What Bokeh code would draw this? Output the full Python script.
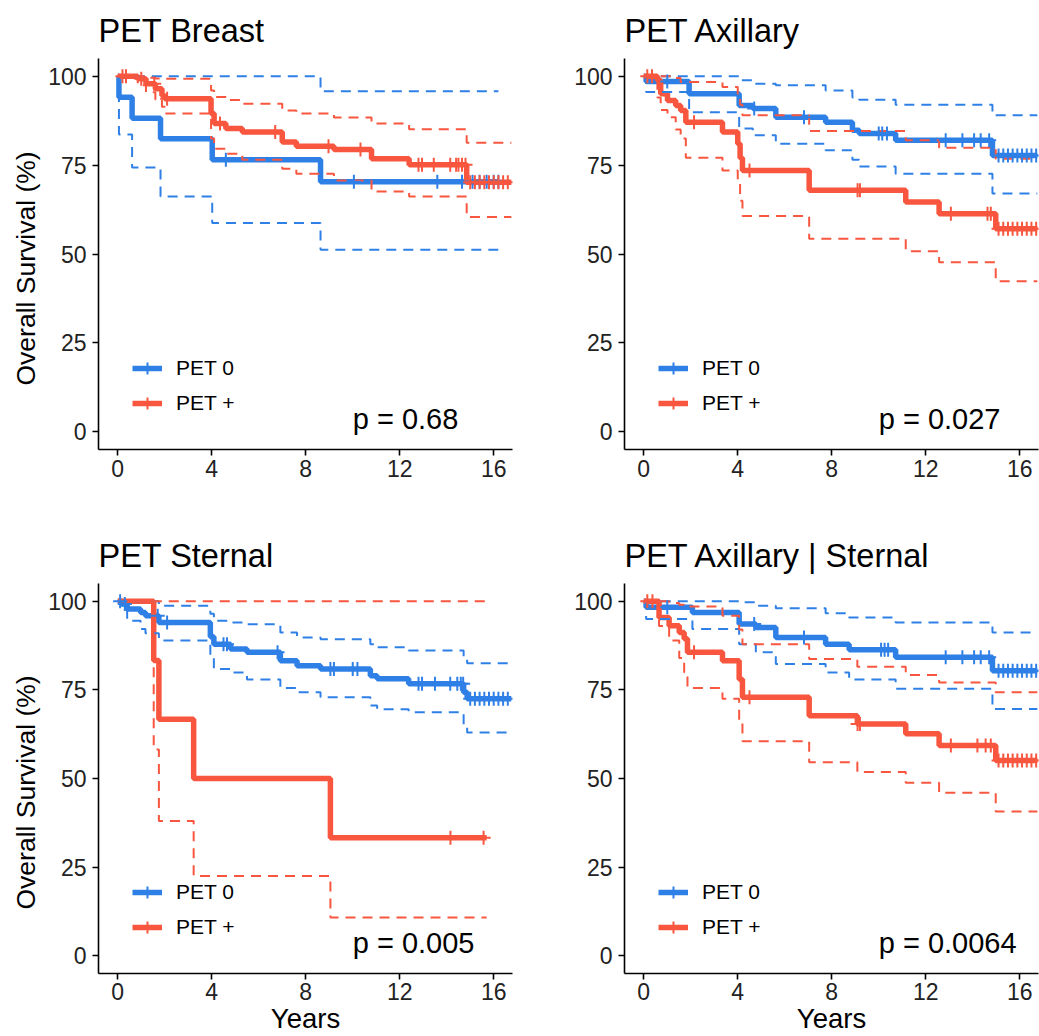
import numpy as np
from bokeh.plotting import figure
from bokeh.models import Range1d, Legend, LegendItem, Label, Title
from bokeh.layouts import column, row
from bokeh.embed import file_html
from bokeh.resources import INLINE

FONT = "Liberation Sans"
BLUE = "#2F80E6"
RED = "#F8563F"

titles = ["PET Breast", "PET Axillary", "PET Sternal", "PET Axillary | Sternal"]
pvals = ["p = 0.68", "p = 0.027", "p = 0.005", "p = 0.0064"]
legend_labels = ["PET 0", "PET +"]
x_ticks = [0, 4, 8, 12, 16]
y_ticks = [0, 25, 50, 75, 100]
y_title = "Overall Survival (%)"
x_title = "Years"

# ---------------- PET Breast ----------------
breast_pet0_time = [0, 0.05, 0.61, 1.82, 4.02, 8.63, 16.2]
breast_pet0_surv = [100, 94.1, 88.2, 82.4, 76.5, 70.3, 70.3]
breast_pet0_upper = [100, 100, 100, 100, 100, 95.8, 95.8]
breast_pet0_lower = [100, 83.6, 74.3, 66.2, 58.7, 51.2, 51.2]
breast_pet0_censor = [4.6, 10.05, 13.6, 14.65, 15.1, 15.4, 15.7, 16.0, 16.2]

breast_petp_time = [0, 0.85, 1.2, 1.6, 1.88, 2.0, 3.97, 4.1, 4.6, 5.3, 7.0, 7.6, 9.2, 10.8, 12.4, 14.85, 16.75]
breast_petp_surv = [100, 99.3, 97.9, 96.5, 94.6, 93.7, 89.5, 86.7, 85.3, 84.3, 81.5, 80.3, 79.4, 76.8, 75.1, 70.2, 70.2]
breast_petp_upper = [100, 100, 99.6, 99.4, 99.4, 99.3, 96.0, 94.2, 93.3, 92.3, 90.4, 89.5, 88.4, 86.7, 85.1, 81.3, 81.3]
breast_petp_lower = [100, 97.5, 95.5, 93.5, 91.4, 89.5, 82.5, 79.6, 78.2, 76.5, 74.0, 72.6, 70.7, 67.6, 66.2, 60.4, 60.4]
breast_petp_censor = [0.2, 0.35, 1.0, 1.55, 2.1, 4.35, 6.7, 8.97, 10.33, 12.8, 12.95, 13.45, 14.15, 14.4,
                      14.5, 14.65, 14.8, 15.0, 15.2, 15.4, 15.6, 15.8, 16.0, 16.2, 16.4, 16.6]

# ---------------- PET Axillary ----------------
axillary_pet0_time = [0, 0.1, 1.93, 4.06, 4.64, 5.62, 7.74, 8.88, 9.17, 10.72, 14.84, 16.75]
axillary_pet0_surv = [100, 98.5, 95.1, 91.8, 90.9, 88.5, 87.1, 84.8, 83.9, 82.0, 77.7, 77.7]
axillary_pet0_upper = [100, 100, 100, 98.9, 97.9, 97.5, 96.0, 94.0, 93.4, 92.0, 89.0, 89.0]
axillary_pet0_lower = [100, 95.6, 89.9, 85.3, 83.4, 81.0, 79.2, 76.5, 74.6, 72.6, 67.0, 67.0]
axillary_pet0_censor = [1.0, 4.7, 6.82, 10.0, 10.15, 10.35, 12.85, 13.56, 14.06, 14.34, 14.7,
                        15.1, 15.3, 15.5, 15.7, 15.9, 16.1, 16.3, 16.5, 16.7]

axillary_petp_time = [0, 0.58, 0.72, 1.01, 1.36, 1.57, 1.79, 3.35, 4.0, 4.1, 4.2, 7.04, 11.15, 12.57, 14.98, 16.75]
axillary_petp_surv = [100, 98.9, 95.1, 93.2, 91.8, 90.4, 87.1, 84.3, 81.0, 77.0, 73.5, 67.9, 64.6, 61.3, 57.1, 57.1]
axillary_petp_upper = [100, 100, 100, 100, 99.5, 98.4, 98.4, 97.0, 95.1, 92.0, 89.0, 84.6, 82.0, 79.9, 76.8, 76.8]
axillary_petp_lower = [100, 94.0, 90.5, 88.5, 85.0, 82.5, 77.1, 73.5, 70.0, 65.0, 60.7, 54.3, 50.8, 47.7, 42.3, 42.3]
axillary_petp_censor = [0.15, 0.35, 2.14, 4.5, 9.1, 9.2, 13.07, 14.63, 14.77,
                        15.1, 15.3, 15.5, 15.7, 15.9, 16.1, 16.3, 16.5, 16.7]

# ---------------- PET Sternal ----------------
sternal_pet0_time = [0, 0.19, 0.4, 0.97, 1.18, 1.75, 3.94, 4.09, 4.8, 5.5, 6.92, 7.63, 8.63, 10.75, 11.04, 12.38, 14.72, 14.87, 16.75]
sternal_pet0_surv = [100, 99.2, 97.8, 96.8, 95.9, 94.0, 90.0, 87.9, 86.5, 85.6, 83.2, 81.8, 80.9, 79.0, 78.1, 76.7, 74.3, 72.5, 72.5]
sternal_pet0_upper = [100, 100, 100, 100, 100, 98.7, 96.5, 94.5, 94.0, 93.5, 91.2, 89.8, 89.3, 87.9, 87.0, 86.1, 84.0, 82.5, 82.5]
sternal_pet0_lower = [100, 97.5, 94.5, 92.2, 91.0, 88.9, 84.0, 80.9, 79.9, 77.9, 75.5, 74.3, 72.9, 70.6, 69.5, 68.7, 65.0, 63.0, 63.0]
sternal_pet0_censor = [0.1, 0.3, 1.7, 2.1, 4.5, 4.65, 6.8, 9.05, 9.2, 10.0, 10.2, 12.8, 12.95, 13.5, 14.15,
                       14.45, 14.6, 14.7, 15.0, 15.2, 15.4, 15.6, 15.8, 16.0, 16.2, 16.4, 16.6]

sternal_petp_time = [0, 1.53, 1.75, 3.23, 9.05, 15.7]
sternal_petp_surv = [100, 83.3, 66.7, 50.0, 33.3, 33.3]
sternal_petp_upper = [100, 100, 100, 100, 100, 100]
sternal_petp_lower = [100, 58.2, 38.0, 22.5, 10.8, 10.8]
sternal_petp_censor = [14.16, 15.57]

# ---------------- PET Axillary | Sternal ----------------
either_pet0_time = [0, 0.1, 2.07, 4.06, 4.77, 5.62, 7.74, 8.74, 10.72, 14.84, 16.75]
either_pet0_surv = [100, 98.3, 96.8, 93.6, 92.6, 89.8, 87.9, 86.3, 84.2, 80.4, 80.4]
either_pet0_upper = [100, 100, 100, 99.7, 98.7, 98.0, 96.6, 95.4, 94.0, 91.2, 91.2]
either_pet0_lower = [100, 95.0, 92.2, 87.9, 85.6, 82.3, 79.9, 77.9, 75.3, 69.6, 69.6]
either_pet0_censor = [1.0, 4.7, 6.82, 10.1, 10.25, 10.4, 12.85, 13.56, 14.06, 14.34, 14.7,
                      15.1, 15.3, 15.5, 15.7, 15.9, 16.1, 16.3, 16.5, 16.7]

either_petp_time = [0, 0.65, 1.08, 1.51, 1.72, 1.86, 3.35, 4.06, 4.2, 7.04, 9.09, 11.15, 12.57, 14.98, 16.75]
either_petp_surv = [100, 95.4, 93.1, 91.2, 89.4, 85.6, 83.2, 78.0, 72.9, 67.7, 65.4, 62.6, 59.3, 55.1, 55.1]
either_petp_upper = [100, 100, 99.5, 99.0, 98.5, 98.5, 95.9, 92.0, 87.9, 83.7, 81.5, 79.2, 77.1, 74.3, 74.3]
either_petp_lower = [100, 93.0, 88.9, 84.0, 80.0, 75.5, 72.5, 66.0, 60.5, 54.6, 51.8, 48.8, 46.0, 40.7, 40.7]
either_petp_censor = [0.15, 0.37, 2.14, 4.5, 9.1, 9.2, 13.07, 14.2, 14.55, 14.77,
                      15.1, 15.3, 15.5, 15.7, 15.9, 16.1, 16.3, 16.5, 16.7]

panels = [
    ((breast_pet0_time, breast_pet0_surv, breast_pet0_upper, breast_pet0_lower, breast_pet0_censor),
     (breast_petp_time, breast_petp_surv, breast_petp_upper, breast_petp_lower, breast_petp_censor)),
    ((axillary_pet0_time, axillary_pet0_surv, axillary_pet0_upper, axillary_pet0_lower, axillary_pet0_censor),
     (axillary_petp_time, axillary_petp_surv, axillary_petp_upper, axillary_petp_lower, axillary_petp_censor)),
    ((sternal_pet0_time, sternal_pet0_surv, sternal_pet0_upper, sternal_pet0_lower, sternal_pet0_censor),
     (sternal_petp_time, sternal_petp_surv, sternal_petp_upper, sternal_petp_lower, sternal_petp_censor)),
    ((either_pet0_time, either_pet0_surv, either_pet0_upper, either_pet0_lower, either_pet0_censor),
     (either_petp_time, either_petp_surv, either_petp_upper, either_petp_lower, either_petp_censor)),
]


def surv_at(times, surv, t):
    idx = np.searchsorted(np.asarray(times), np.asarray(t), side="right") - 1
    return list(np.asarray(surv)[idx])


def build(i):
    left = i % 2 == 0
    top = i < 2
    p = figure(width=519 if left else 520, height=525 if top else 511,
               x_range=Range1d(-0.82, 16.8), y_range=Range1d(-5, 105),
               output_backend="svg", toolbar_location=None,
               min_border_left=98 if left else 105, min_border_right=7 if left else 1,
               min_border_top=58, min_border_bottom=76 if top else 62,
               title=titles[i])
    p.title.text_font = FONT
    p.title.text_font_size = "32.5px"
    p.title.text_font_style = "normal"
    p.title.text_color = "black"
    p.title.align = "left"
    p.title.offset = 0
    p.title.standoff = 19
    p.outline_line_color = None
    p.xgrid.visible = False
    p.ygrid.visible = False
    p.background_fill_color = "white"
    p.border_fill_color = "white"

    for ax in (p.xaxis[0], p.yaxis[0]):
        ax.axis_line_color = "black"
        ax.axis_line_width = 1.6
        ax.major_tick_line_color = "black"
        ax.major_tick_line_width = 1.6
        ax.major_tick_out = 6
        ax.major_tick_in = 0
        ax.minor_tick_out = 0
        ax.minor_tick_in = 0
        ax.major_label_text_font = FONT
        ax.major_label_text_font_size = "23px"
        ax.major_label_text_color = "#222222"
        ax.axis_label_text_font = FONT
        ax.axis_label_text_font_style = "normal"
        ax.axis_label_text_color = "black"
    p.xaxis.ticker = x_ticks
    p.yaxis.ticker = y_ticks
    p.xaxis.major_label_standoff = 4
    p.yaxis.major_label_standoff = 6

    if left:
        p.add_layout(Title(text=y_title, align="left", offset=64, standoff=9,
                           text_font=FONT, text_font_size="26.5px", text_font_style="normal",
                           text_color="black"), "left")
    if not top:
        p.xaxis.axis_label = x_title
        p.xaxis.axis_label_text_font_size = "27.5px"
        p.xaxis.axis_label_standoff = 0
        p.xaxis.major_label_standoff = 3

    blue, red = panels[i]
    mains = []
    for (t, s, up, lo, c), col in ((blue, BLUE), (red, RED)):
        r = p.step(x=t, y=s, mode="after", line_color=col, line_width=5.5)
        mains.append(r)
    for (t, s, up, lo, c), col in ((blue, BLUE), (red, RED)):
        p.step(x=t, y=up, mode="after", line_color=col, line_width=2, line_dash="10 7")
        p.step(x=t, y=lo, mode="after", line_color=col, line_width=2, line_dash="10 7")
    items = []
    for k, ((t, s, up, lo, c), col) in enumerate(((blue, BLUE), (red, RED))):
        cr = p.scatter(x=c, y=surv_at(t, s, c), marker="cross", size=14, line_color=col, line_width=2)
        items.append(LegendItem(label=legend_labels[k], renderers=[mains[k], cr]))

    legend = Legend(items=items, location=(34, 30), orientation="vertical",
                    glyph_width=30, glyph_height=32, label_standoff=14, spacing=3,
                    padding=0, margin=0, border_line_color=None, background_fill_alpha=0,
                    label_text_font=FONT, label_text_font_size="21px", label_text_color="black")
    p.add_layout(legend)

    p.add_layout(Label(x=10.0, y=3.7, text=pvals[i], text_font=FONT, text_font_size="29px",
                       text_baseline="middle", text_align="left", text_color="black"))
    return p


figs = [build(i) for i in range(4)]
layout = column(row(figs[0], figs[1]), row(figs[2], figs[3]))

open("out.html", "w").write(file_html(layout, INLINE))
